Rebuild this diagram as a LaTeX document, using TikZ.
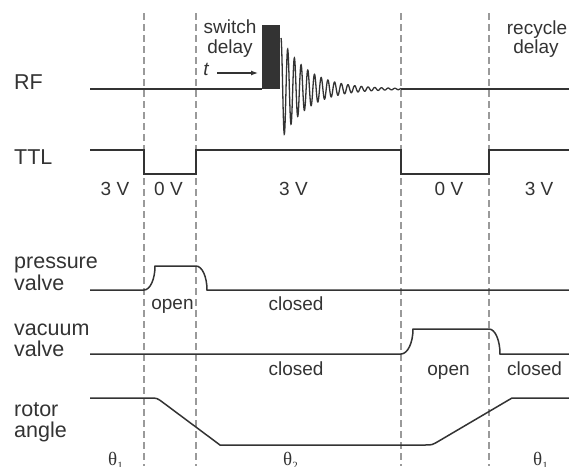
\documentclass[tikz,border=0pt]{standalone}
\usepackage{fontspec}
\setmainfont{Liberation Sans}
\newfontfamily\thetafont{Liberation Serif}
\usetikzlibrary{arrows.meta}
\definecolor{ink}{HTML}{333333}
\definecolor{guide}{HTML}{9A9A9A}
\begin{document}
\begin{tikzpicture}[x=1pt,y=-1pt,
  wave/.style={draw=ink, line width=1.5pt},
  guideline/.style={draw=guide, line width=1.2pt, dash pattern=on 7pt off 4pt},
  biglabel/.style={font=\fontsize{21.5}{22}\selectfont, text=ink, inner sep=0pt, anchor=base west},
  smalllabel/.style={font=\fontsize{19}{20}\selectfont, text=ink, inner sep=0pt, anchor=base},
  thetalabel/.style={font=\fontsize{19}{20}\selectfont\thetafont, text=ink, inner sep=0pt, anchor=base west},
]
\useasboundingbox (0,0) rectangle (569,466);

% guide lines
\foreach \gx in {144,196,401,489}{
  \draw[guideline] (\gx,13) -- (\gx,466);
}

% left labels
\node[biglabel] (rf) at (14,89) {RF};
\node[biglabel] (ttl) at (14,164) {TTL};
\node[biglabel] (pv1) at (14,268) {pressure};
\node[biglabel] (pv2) at (14,290) {valve};
\node[biglabel] (vv1) at (14,335) {vacuum};
\node[biglabel] (vv2) at (14,356) {valve};
\node[biglabel] (ra1) at (14,416) {rotor};
\node[biglabel] (ra2) at (14,437) {angle};

% RF trace
\draw[wave] (90,89) -- (262,89);
\fill[ink] (262,25) rectangle (280,89);
\draw[draw=ink, line width=1.3pt] plot[domain=0:120, samples=700]
  ({281+\x},{89-51*exp(-\x/27)*cos(53.731*\x)});
\draw[wave] (401,89) -- (569,89);

% switch delay labels
\node[smalllabel] (sw1) at (230,33) {switch};
\node[smalllabel] (sw2) at (230,53) {delay};
\node[smalllabel, font=\fontsize{19}{20}\selectfont\itshape] (tl) at (206,75) {t};
\coordinate (ta) at (217,73);
\coordinate (tb) at (258,73);
\draw[ink, line width=1.2pt, -{Latex[length=7pt,width=5pt]}] (ta) -- (tb);
\node[smalllabel] (rc1) at (537,34) {recycle};
\node[smalllabel] (rc2) at (536,53) {delay};

% TTL trace
\draw[wave] (90,150) -- (144,150) -- (144,174) -- (196,174) -- (196,150)
  -- (401,150) -- (401,174) -- (489,174) -- (489,150) -- (569,150);
\node[smalllabel] (v1) at (115,195) {3 V};
\node[smalllabel] (v2) at (168.5,195) {0 V};
\node[smalllabel] (v3) at (293.5,195) {3 V};
\node[smalllabel] (v4) at (449,195) {0 V};
\node[smalllabel] (v5) at (539,195) {3 V};

% pressure valve
\draw[wave] (90,290) -- (144,290) .. controls (150.1,290) and (155,279.2) .. (155,266)
  -- (196,266) .. controls (202.1,266) and (207,276.8) .. (207,290) -- (569,290);
\node[smalllabel] (po) at (172.5,309) {open};
\node[smalllabel] (pc) at (296,310) {closed};

% vacuum valve
\draw[wave] (90,354) -- (401,354) .. controls (407.6,354) and (413,342.8) .. (413,329)
  -- (489,329) .. controls (495.1,329) and (500,340.2) .. (500,354) -- (569,354);
\node[smalllabel] (vc1) at (296,375) {closed};
\node[smalllabel] (vo) at (448.5,375) {open};
\node[smalllabel] (vc2) at (534.5,375) {closed};

% rotor angle
\draw[wave] (90,398) -- (150,398) .. controls (157,398) .. (163.4,402.8)
  -- (220,445) -- (425,445) .. controls (432,445) .. (438.9,441) -- (512,398) -- (569,398);
\node[thetalabel] (t1) at (108,465.5) {θ\raisebox{-4pt}{\fontsize{11}{12}\selectfont 1}};
\node[thetalabel] (t2) at (283,465.5) {θ\raisebox{-4pt}{\fontsize{11}{12}\selectfont 2}};
\node[thetalabel] (t3) at (533,465.5) {θ\raisebox{-4pt}{\fontsize{11}{12}\selectfont 1}};
\end{tikzpicture}
\end{document}
